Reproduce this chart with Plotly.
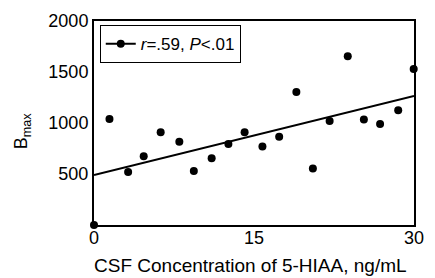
import plotly.graph_objects as go

# Data
csf_5hiaa = [0.0, 1.45, 3.2, 4.66, 6.25, 8.0, 9.36, 11.03, 12.6, 14.12,
             15.79, 17.36, 18.97, 20.52, 22.09, 23.79, 25.3, 26.82, 28.52, 29.97]
bmax = [0, 1040, 520, 675, 910, 815, 530, 655, 795, 910,
        770, 865, 1305, 555, 1020, 1655, 1035, 990, 1125, 1530]

fit_x = [0, 30]
fit_y = [490, 1265]

x_ticks = [0, 15, 30]
y_ticks = [500, 1000, 1500, 2000]

legend_label = "<i>r</i>=.59, <i>P</i>&lt;.01"
x_title = "CSF Concentration of 5-HIAA, ng/mL"
y_title = "B<sub>max</sub>"

FONT = "Arial, Liberation Sans, Helvetica, sans-serif"

fig = go.Figure()

fig.add_trace(go.Scatter(
    x=csf_5hiaa, y=bmax, mode="markers",
    marker=dict(color="black", size=8),
    showlegend=False, cliponaxis=False,
))

# regression line; shows line+dot in legend, its own end markers hidden
fig.add_trace(go.Scatter(
    x=fit_x, y=fit_y, mode="lines+markers",
    line=dict(color="black", width=2),
    marker=dict(color="black", size=8),
    selectedpoints=[],
    unselected=dict(marker=dict(opacity=0)),
    name=legend_label, showlegend=True,
))

fig.update_xaxes(
    range=[0, 30], tickvals=x_ticks, ticktext=[str(v) for v in x_ticks],
    showline=True, mirror=True, linecolor="black", linewidth=2,
    showgrid=False, zeroline=False, ticks="", ticklabelstandoff=-5,
    tickfont=dict(size=18, color="black", family=FONT),
)
fig.update_yaxes(
    range=[0, 2000], tickvals=y_ticks, ticktext=[str(v) for v in y_ticks],
    showline=True, mirror=True, linecolor="black", linewidth=2,
    showgrid=False, zeroline=False, ticks="",
    tickfont=dict(size=18, color="black", family=FONT),
)

fig.add_annotation(
    text=y_title, textangle=-90, showarrow=False,
    xref="paper", yref="paper", x=-0.221, y=0.461,
    xanchor="center", yanchor="middle",
    font=dict(size=18, color="black", family=FONT),
)
fig.add_annotation(
    text=x_title, showarrow=False,
    xref="paper", yref="paper", x=0.488, y=-0.2598,
    xanchor="center", yanchor="bottom",
    font=dict(size=19, color="black", family=FONT),
)

fig.update_layout(
    width=435, height=278,
    margin=dict(l=94, r=11, t=21, b=53),
    paper_bgcolor="white", plot_bgcolor="white",
    font=dict(family=FONT, color="black", size=18),
    legend=dict(
        x=0.018, y=0.98, xanchor="left", yanchor="top",
        bordercolor="black", borderwidth=1, bgcolor="white",
        font=dict(size=17, color="black", family=FONT),
    ),
)

fig.write_html(
    "out.html",
    config={"displayModeBar": False},
    post_script="document.body.style.margin='0';document.body.style.overflow='hidden';",
)
